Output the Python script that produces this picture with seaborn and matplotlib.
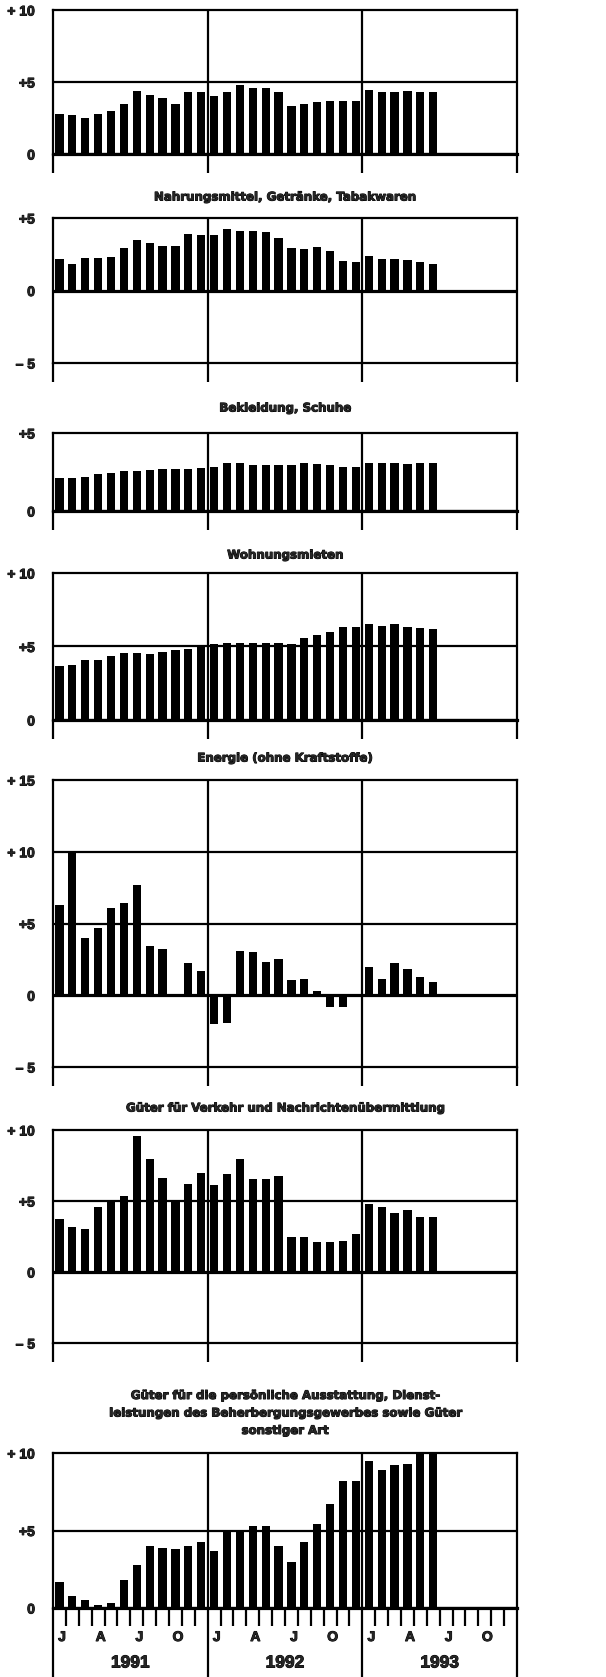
import numpy as np
import pandas as pd
import matplotlib
matplotlib.use('Agg')
import matplotlib.pyplot as plt
import matplotlib.patheffects as pe
import seaborn as sns
from matplotlib.transforms import blended_transform_factory

# Monatswerte Jan 1991 - Jun 1993, Veraenderung gegenueber Vorjahr in %
GESAMT = [2.8, 2.7, 2.5, 2.8, 3.0, 3.5, 4.4, 4.1, 3.9, 3.5, 4.3, 4.3,
          4.0, 4.3, 4.8, 4.6, 4.6, 4.3, 3.35, 3.5, 3.6, 3.7, 3.7, 3.7,
          4.45, 4.3, 4.3, 4.4, 4.3, 4.3]
NAHRUNG = [2.2, 1.85, 2.25, 2.25, 2.3, 2.9, 3.5, 3.3, 3.1, 3.05, 3.9, 3.85,
           3.85, 4.25, 4.1, 4.1, 4.05, 3.65, 2.95, 2.85, 3.0, 2.75, 2.05, 1.95,
           2.35, 2.2, 2.2, 2.1, 2.0, 1.8]
BEKLEIDUNG = [2.1, 2.1, 2.2, 2.35, 2.45, 2.55, 2.55, 2.6, 2.7, 2.7, 2.7, 2.75,
              2.85, 3.05, 3.05, 2.95, 2.95, 2.95, 2.95, 3.05, 3.0, 2.95, 2.8, 2.8,
              3.1, 3.05, 3.1, 3.0, 3.1, 3.1]
MIETEN = [3.65, 3.75, 4.05, 4.05, 4.35, 4.55, 4.55, 4.5, 4.6, 4.75, 4.8, 5.0,
          5.2, 5.25, 5.25, 5.25, 5.25, 5.25, 5.2, 5.6, 5.8, 6.0, 6.3, 6.3,
          6.5, 6.4, 6.5, 6.3, 6.25, 6.2]
ENERGIE = [6.3, 10.0, 4.0, 4.7, 6.1, 6.45, 7.7, 3.4, 3.2, 0.0, 2.25, 1.7,
           -2.0, -1.9, 3.1, 3.0, 2.3, 2.5, 1.05, 1.15, 0.3, -0.85, -0.85, 0.0,
           2.0, 1.15, 2.25, 1.8, 1.3, 0.9]
VERKEHR = [3.75, 3.2, 3.05, 4.6, 5.1, 5.35, 9.55, 7.95, 6.6, 4.9, 6.2, 6.95,
           6.15, 6.9, 7.95, 6.55, 6.55, 6.75, 2.5, 2.5, 2.1, 2.1, 2.2, 2.7,
           4.8, 4.6, 4.15, 4.35, 3.85, 3.85]
SONSTIGE = [1.65, 0.75, 0.5, 0.2, 0.3, 1.8, 2.8, 4.0, 3.9, 3.8, 4.0, 4.25,
            3.7, 4.9, 4.9, 5.3, 5.3, 4.0, 3.0, 4.25, 5.4, 6.7, 8.2, 8.2,
            9.5, 8.9, 9.2, 9.3, 10.6, 10.5]

TITLES = [
    None,
    "Nahrungsmittel, Getränke, Tabakwaren",
    "Bekleidung, Schuhe",
    "Wohnungsmieten",
    "Energie (ohne Kraftstoffe)",
    "Güter für Verkehr und Nachrichtenübermittlung",
    "Güter für die persönliche Ausstattung, Dienst-\n"
    "leistungen des Beherbergungsgewerbes sowie Güter\nsonstiger Art",
]
SERIES = [GESAMT, NAHRUNG, BEKLEIDUNG, MIETEN, ENERGIE, VERKEHR, SONSTIGE]
YRANGES = [(0, 10), (-5, 5), (0, 5), (0, 10), (-5, 15), (-5, 10), (0, 10)]
YLABELS = {15: "+ 15", 10: "+ 10", 5: "+5", 0: "0", -5: "– 5"}
YEARS = ["1991", "1992", "1993"]
MONTH_LETTERS = ["J", "A", "J", "O"]
N_MONTHS = 36

# layout in pixels (top, bottom) of every frame
W, H = 606, 1677
X_LEFT, X_RIGHT = 53, 517
BOXES = [(10, 154), (218, 363), (433, 511), (573, 720),
         (780, 1067), (1130, 1343), (1453, 1608)]
TITLE_Y = [None, 197, 408, 555, 758, 1108, 1413]

sns.set_style("white")
plt.rcParams['font.family'] = ['DejaVu Sans']
plt.rcParams['font.weight'] = 'bold'

LW = 1.6
LW0 = 2.3
HEAVY = [pe.withStroke(linewidth=0.7, foreground="black")]
TICKFONT = ['Liberation Sans', 'DejaVu Sans']

fig = plt.figure(figsize=(W / 100, H / 100), dpi=100)

for i, (vals, (lo, hi), (top, bot)) in enumerate(zip(SERIES, YRANGES, BOXES)):
    ax = fig.add_axes([X_LEFT / W, 1 - bot / H, (X_RIGHT - X_LEFT) / W, (bot - top) / H])
    df = pd.DataFrame({"monat": np.arange(len(vals)), "wert": vals})
    sns.barplot(data=df, x="monat", y="wert", native_scale=True, color="black",
                saturation=1, width=0.64, errorbar=None, linewidth=0, ax=ax)
    ax.set_xlim(-0.5, N_MONTHS - 0.5)
    ax.set_ylim(lo, hi)
    ax.set_xlabel("")
    ax.set_ylabel("")

    for s in ax.spines.values():
        s.set_visible(True)
        s.set_color("black")
        s.set_linewidth(LW)
    if lo == 0:
        ax.spines["bottom"].set_linewidth(LW0)

    yt = list(range(lo, hi + 1, 5))
    for y in yt:
        if y not in (lo, hi, 0):
            ax.axhline(y, color="black", lw=LW, zorder=0.5)
    ax.axhline(0, color="black", lw=LW0, zorder=3)
    for x in (11.5, 23.5):
        ax.axvline(x, color="black", lw=LW, zorder=0.5)

    ax.set_yticks(yt)
    ax.set_yticklabels([YLABELS[v] for v in yt], fontsize=10, fontweight="bold",
                       family=TICKFONT)
    for lab in ax.get_yticklabels():
        lab.set_path_effects(HEAVY)
    ax.tick_params(axis="y", which="major", length=0, pad=13)
    ax.set_yticks([0], minor=True)
    ax.tick_params(axis="y", which="minor", length=11, width=LW0, direction="out", left=True)

    ax.set_xticks([-0.5, 11.5, 23.5, 35.5])
    ax.set_xticklabels([])
    ax.tick_params(axis="x", which="major", length=14, width=LW, direction="out",
                   bottom=True, color="black")

    if TITLES[i] is not None:
        fig.text((X_LEFT + X_RIGHT) / 2 / W, 1 - TITLE_Y[i] / H, TITLES[i],
                 ha="center", va="center", fontsize=8.5, fontweight="bold",
                 linespacing=1.45, path_effects=HEAVY)

    if i == len(SERIES) - 1:
        ax.tick_params(axis="x", which="major", length=50)
        minor = [m - 0.5 for m in range(1, N_MONTHS) if m % 12 != 0]
        ax.set_xticks(minor, minor=True)
        ax.tick_params(axis="x", which="minor", length=13, width=LW, direction="out",
                       bottom=True, color="black")
        tr = blended_transform_factory(ax.transData, fig.transFigure)
        for y, year in enumerate(YEARS):
            for k, letter in enumerate(MONTH_LETTERS):
                ax.text(12 * y + 3 * k + 0.2, 1 - 1637 / H, letter, transform=tr,
                        ha="center", va="center", fontsize=10, fontweight="bold",
                        family=TICKFONT, path_effects=HEAVY)
            ax.text(12 * y + 5.5, 1 - 1663 / H, year, transform=tr,
                    ha="center", va="center", fontsize=12.5, fontweight="bold",
                    family=TICKFONT, path_effects=HEAVY)

fig.savefig("out.png", dpi=100)
